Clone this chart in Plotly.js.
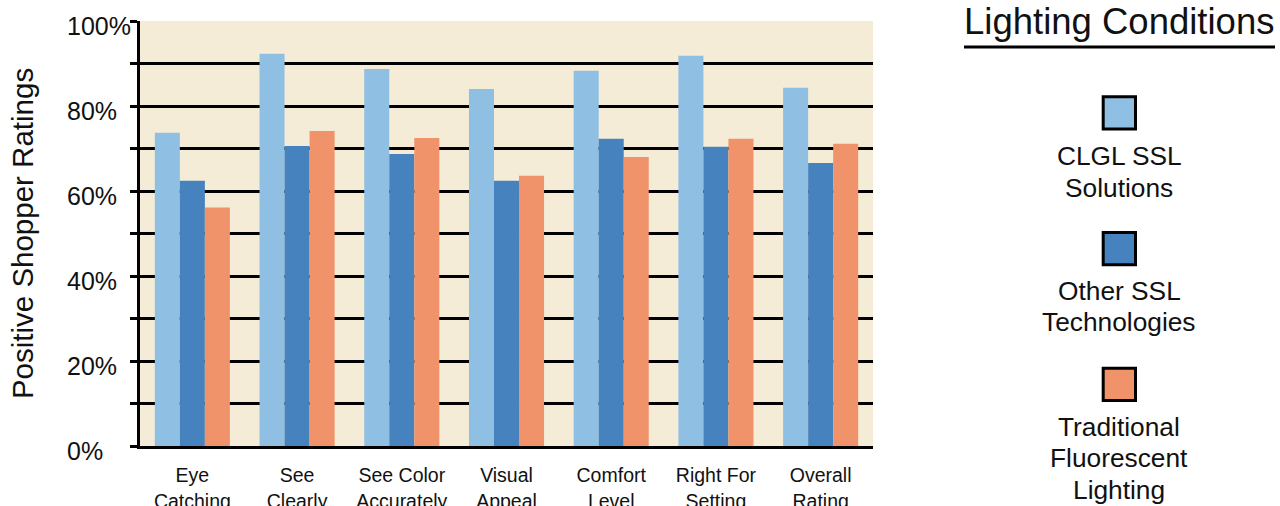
<!DOCTYPE html>
<html>
<head>
<meta charset="utf-8">
<script src="https://cdn.plot.ly/plotly-3.0.1.min.js"></script>
<style>html,body{margin:0;padding:0;background:#fff;}#chart{width:1280px;height:506px;}</style>
</head>
<body>
<div id="chart"></div>
<script>
// ---- data ----
const categories = ["Eye<br>Catching", "See<br>Clearly", "See Color<br>Accurately", "Visual<br>Appeal", "Comfort<br>Level", "Right For<br>Setting", "Overall<br>Rating"];
const clglSSL = [73.7, 92.3, 88.7, 84.0, 88.3, 91.8, 84.3];
const otherSSL = [62.4, 70.6, 68.7, 62.4, 72.3, 70.4, 66.6];
const traditional = [56.1, 74.1, 72.5, 63.6, 68.0, 72.3, 71.1];
const seriesNames = ["CLGL SSL<br>Solutions", "Other SSL<br>Technologies", "Traditional<br>Fluorescent<br>Lighting"];
const yTickVals = [0, 20, 40, 60, 80, 100];
const yTickText = ["0%", "20%", "40%", "60%", "80%", "100%"];
const legendTitle = "Lighting Conditions";
const yTitle = "Positive Shopper Ratings";

// ---- style ----
const colors = ["#8FBFE2", "#4682BD", "#F0936A"];
const FONT = "Liberation Sans, Arial, Helvetica, sans-serif";
const L = 140, R = 873, T = 21, B = 446.5, W = 1280, H = 506;
const px = x => (x - L) / (R - L);
const py = y => (B - y) / (B - T);

const seriesValues = [clglSSL, otherSSL, traditional];
const traces = seriesValues.map((vals, i) => ({
  type: "bar",
  x: categories,
  y: vals,
  name: seriesNames[i].replace(/<br>/g, " "),
  marker: { color: colors[i], line: { width: 0 } },
  hoverinfo: "x+y+name"
}));

const shapes = [];
const annotations = [];

// left-aligned y tick labels (placed through the y axis scale)
yTickVals.forEach((v, i) => {
  annotations.push({
    xref: "paper", yref: "y", x: px(65), y: v, yshift: -4.5,
    xanchor: "left", yanchor: "middle", showarrow: false,
    text: yTickText[i], font: { family: FONT, size: 25, color: "#111" }
  });
});

// legend title + underline
annotations.push({
  xref: "paper", yref: "paper", x: px(1119), y: py(22),
  xanchor: "center", yanchor: "middle", showarrow: false,
  text: legendTitle, font: { family: FONT, size: 36.5, color: "#111" }
});
shapes.push({
  type: "line", xref: "paper", yref: "paper",
  x0: px(964), x1: px(1275), y0: py(47), y1: py(47),
  line: { color: "#000", width: 3 }
});

// custom legend: square above multi-line label
const sqCenters = [113, 249, 384.7];
const labelFirstCapCenter = [156.5, 291, 427.5];
const lineStep = 31.5;
const LFS = 26.3;
seriesNames.forEach((nm, i) => {
  const cy = sqCenters[i];
  shapes.push({
    type: "rect", xref: "paper", yref: "paper",
    x0: px(1103.2), x1: px(1135.5), y0: py(cy + 16.15), y1: py(cy - 16.15),
    fillcolor: colors[i], line: { color: "#000", width: 3 }
  });
  nm.split("<br>").forEach((ln, j) => {
    annotations.push({
      xref: "paper", yref: "paper", x: px(1119), y: py(labelFirstCapCenter[i] + j * lineStep),
      xanchor: "center", yanchor: "middle", showarrow: false,
      text: ln, font: { family: FONT, size: LFS, color: "#111" }
    });
  });
});

const layout = {
  width: W, height: H,
  margin: { l: L, r: W - R, t: T, b: H - B, pad: 0 },
  paper_bgcolor: "#ffffff",
  plot_bgcolor: "#F4ECD6",
  font: { family: FONT, color: "#111" },
  barmode: "group",
  bargap: 0.283,
  bargroupgap: 0,
  showlegend: false,
  xaxis: {
    type: "category",
    range: [-0.5, 6.5],
    showline: true, linecolor: "#000", linewidth: 3,
    ticks: "", showgrid: false, zeroline: false,
    tickfont: { family: FONT, size: 19.5, color: "#111" },
    ticklabelstandoff: 10,
    automargin: false
  },
  yaxis: {
    range: [0, 100],
    tickmode: "array", tickvals: yTickVals, ticktext: yTickText,
    showticklabels: false,
    ticks: "outside", ticklen: 7, tickwidth: 3, tickcolor: "#000",
    showgrid: true, gridcolor: "#000", gridwidth: 3,
    showline: true, linecolor: "#000", linewidth: 3,
    zeroline: false,
    minor: { dtick: 10, tick0: 0, ticks: "outside", ticklen: 7, tickwidth: 3, tickcolor: "#000", showgrid: true, gridcolor: "#000", gridwidth: 3 },
    title: { text: yTitle, font: { family: FONT, size: 29.5, color: "#111" }, standoff: 88 },
    automargin: false
  },
  shapes: shapes,
  annotations: annotations
};

Plotly.newPlot("chart", traces, layout, { displayModeBar: false, staticPlot: true });
</script>
</body>
</html>
